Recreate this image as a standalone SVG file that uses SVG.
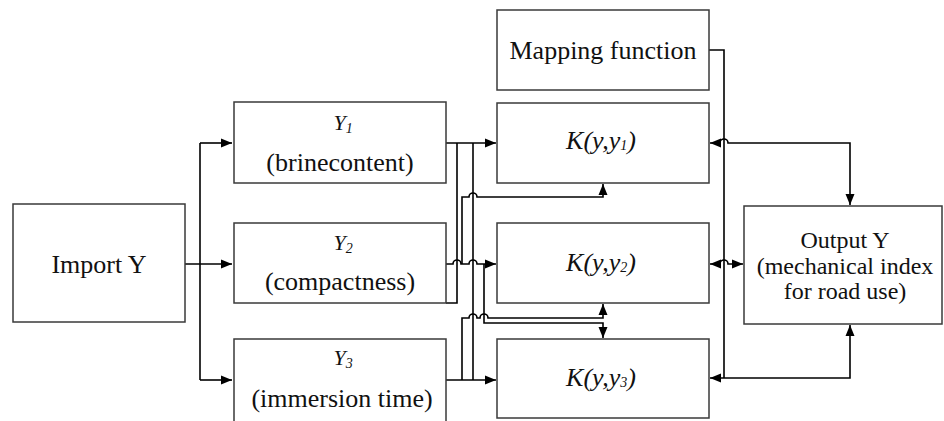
<svg xmlns="http://www.w3.org/2000/svg" width="944" height="421" viewBox="0 0 944 421">
<style>
.box{fill:#fff;stroke:#3a3a3a;stroke-width:1.5}
.ln{fill:none;stroke:#000;stroke-width:1.6}
text{font-family:'Liberation Serif','DejaVu Serif','Times New Roman',serif;font-size:26px;fill:#111;text-anchor:middle}
.i{font-style:italic}
.s{font-size:14px}
.o{font-size:24px}
</style>
<defs>
<marker id="a" markerUnits="userSpaceOnUse" markerWidth="12" markerHeight="10" refX="11" refY="5" orient="auto-start-reverse">
<path d="M0,0.5 L11,5 L0,9.5 z" fill="#000"/>
</marker>
</defs>
<rect width="944" height="421" fill="#fff"/>
<g id="connectors">
<path class="ln" d="M185,264 H232" marker-end="url(#a)"/>
<path class="ln" d="M200,143 V380"/>
<path class="ln" d="M200,143 H232" marker-end="url(#a)"/>
<path class="ln" d="M200,380 H232" marker-end="url(#a)"/>
<path class="ln" d="M446,143 H496" marker-end="url(#a)"/>
<path class="ln" d="M457,143 V303 H446"/>
<path class="ln" d="M473,143 V380"/>
<path class="ln" d="M446,264 H453 A4,4 0 0 1 461,264 H469 A4,4 0 0 1 477,264 H496" marker-end="url(#a)"/>
<path class="ln" d="M462,264 V197 H469 A4,4 0 0 1 477,197 H603 V184" marker-end="url(#a)"/>
<path class="ln" d="M446,380 H496" marker-end="url(#a)"/>
<path class="ln" d="M462,380 V318 H469 A4,4 0 0 1 477,318 H480 A4,4 0 0 1 488,318 H603 V304" marker-end="url(#a)"/>
<path class="ln" d="M484,264 V323 H603 V338" marker-end="url(#a)"/>
<path class="ln" d="M709,50 H724 V378"/>
<path class="ln" d="M710,143 H720 A4,4 0 0 1 728,143 H850 V205" marker-start="url(#a)" marker-end="url(#a)"/>
<path class="ln" d="M710,264 H720 A4,4 0 0 1 728,264 H743" marker-start="url(#a)" marker-end="url(#a)"/>
<path class="ln" d="M710,378 H850 V325" marker-start="url(#a)" marker-end="url(#a)"/>
</g>
<g id="import">
<rect class="box" x="13" y="204" width="172" height="118"/>
<text x="99" y="273">Import Y</text>
</g>
<g id="y1">
<rect class="box" x="234" y="102" width="212" height="81"/>
<text class="i" x="343" y="130" style="font-size:22px">Y<tspan class="s" dy="3">1</tspan></text>
<text x="340" y="171">(brinecontent)</text>
</g>
<g id="y2">
<rect class="box" x="234" y="223" width="212" height="80"/>
<text class="i" x="343" y="250" style="font-size:22px">Y<tspan class="s" dy="3">2</tspan></text>
<text x="340" y="290">(compactness)</text>
</g>
<g id="y3">
<rect class="box" x="234" y="339" width="212" height="86"/>
<text class="i" x="343" y="365" style="font-size:22px">Y<tspan class="s" dy="3">3</tspan></text>
<text x="342" y="407">(immersion time)</text>
</g>
<g id="mapping">
<rect class="box" x="497" y="10" width="212" height="80"/>
<text x="603" y="59">Mapping function</text>
</g>
<g id="k1">
<rect class="box" x="497" y="103" width="212" height="80"/>
<text class="i" x="601" y="149">K(y,y<tspan class="s" dy="1">1</tspan><tspan dy="-1">)</tspan></text>
</g>
<g id="k2">
<rect class="box" x="497" y="223" width="212" height="80"/>
<text class="i" x="601" y="271">K(y,y<tspan class="s" dy="1">2</tspan><tspan dy="-1">)</tspan></text>
</g>
<g id="k3">
<rect class="box" x="497" y="339" width="212" height="79"/>
<text class="i" x="601" y="386">K(y,y<tspan class="s" dy="1">3</tspan><tspan dy="-1">)</tspan></text>
</g>
<g id="output">
<rect class="box" x="744" y="206" width="198" height="118"/>
<text class="o" x="845" y="248">Output Y</text>
<text class="o" x="845" y="274">(mechanical index</text>
<text class="o" x="845" y="299">for road use)</text>
</g>
</svg>
